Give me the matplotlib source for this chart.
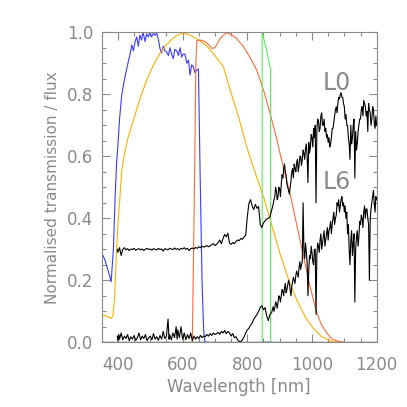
import matplotlib
matplotlib.use("Agg")
import matplotlib.pyplot as plt
from matplotlib.ticker import MultipleLocator

# ---- filter transmission curves ----
blue_wl = [350, 360, 370, 379, 386, 391, 396, 399, 405, 412, 422, 432, 437, 443, 448, 453, 458, 463, 468,
           473, 478, 484, 489, 494, 499, 504, 510, 515, 520, 525, 530, 535, 540, 545, 551, 556, 561, 566,
           571, 576, 582, 587, 592, 597, 602, 607, 613, 618, 623, 628, 633, 638, 644, 649, 654, 660, 665, 669, 680]
blue_tr = [0.289, 0.265, 0.23, 0.195, 0.30, 0.46, 0.58, 0.62, 0.72, 0.80, 0.857, 0.905, 0.927, 0.959, 0.94, 0.97,
           0.985, 0.955, 0.991, 0.975, 1.0, 0.97, 0.995, 0.985, 1.0, 0.985, 0.997, 0.99, 0.998, 0.977, 0.948,
           0.933, 0.955, 0.94, 0.936, 0.925, 0.95, 0.93, 0.915, 0.945, 0.94, 0.925, 0.95, 0.92, 0.93, 0.93,
           0.90, 0.91, 0.862, 0.895, 0.889, 0.87, 0.878, 0.882, 0.55, 0.20, 0.04, 0.0, 0.0]

yel_wl = [350, 365, 378, 385, 390, 395, 400, 405, 412, 420, 430, 448, 468, 489, 510, 530, 550, 575, 597, 620,
          650, 675, 700, 726, 747, 775, 798, 825, 850, 875, 901, 925, 953, 980, 1004, 1030, 1056, 1075, 1090, 1100]
yel_tr = [0.088, 0.085, 0.077, 0.085, 0.15, 0.28, 0.38, 0.45, 0.556, 0.605, 0.655, 0.717, 0.785, 0.846, 0.895,
          0.932, 0.96, 0.985, 0.997, 0.993, 0.975, 0.955, 0.925, 0.889, 0.814, 0.72, 0.631, 0.545, 0.47, 0.38,
          0.287, 0.21, 0.136, 0.08, 0.045, 0.018, 0.005, 0.001, 0.0, 0.0]

red_wl = [630, 636, 641, 644, 654, 669, 680, 690, 700, 708, 716, 726, 736, 752, 767, 778, 788, 808, 829,
          850, 870, 890, 901, 920, 932, 963, 994, 1015, 1030, 1046, 1060, 1076, 1097]
red_tr = [0.0, 0.45, 0.90, 0.973, 0.975, 0.97, 0.96, 0.948, 0.95, 0.965, 0.98, 0.99, 0.999, 0.991, 0.98, 0.966,
          0.954, 0.92, 0.878, 0.814, 0.74, 0.66, 0.61, 0.53, 0.48, 0.33, 0.18, 0.094, 0.055, 0.03, 0.012,
          0.005, 0.0]

grn_wl = [846, 846, 858, 872, 872]
grn_tr = [0.0, 1.0, 0.95, 0.88, 0.0]

base_wl = [350, 1200]
base_tr = [0.0, 0.0]
navy_wl = [846, 872]
navy_tr = [0.0, 0.0]

# ---- L0 spectrum ----
l0_wl = [398, 400, 405, 410, 415, 420, 425, 430, 435, 440, 445, 450, 455, 460, 465, 470, 475, 480, 485, 490,
         495, 500, 505, 510, 515, 520, 525, 530, 535, 540, 545, 550, 555, 560, 565, 570, 575, 580, 585, 590,
         595, 600, 605, 610, 615, 620, 625, 630, 635, 640, 645, 650, 655, 660, 665, 670, 675, 680, 685, 690,
         695, 700, 705, 710, 715, 720, 725, 730, 735, 740, 745, 750, 755, 760, 765, 770, 775, 780, 785, 790,
         795, 800, 805, 810, 815, 820, 825, 830, 835, 840, 845, 850, 855, 860, 865, 870, 875,
         880, 882.5, 885, 887.5, 890, 892.5, 895, 897.5, 900, 902.5, 905, 907.5, 910, 912.5, 915, 917.5,
         920, 922.5, 925, 927.5, 930, 932.5, 935, 937.5, 940, 942.5, 945, 947.5, 950, 952.5, 955, 957.5,
         960, 962.5, 965, 967.5, 970, 972.5, 975, 977.5, 980, 982.5, 985, 987.5, 990, 992.5, 995, 997.5,
         1000, 1002.5, 1005, 1007.5, 1010, 1012.5, 1015, 1017.5, 1020, 1022.5, 1025, 1027.5, 1030, 1032.5,
         1035, 1037.5, 1040, 1042.5, 1045, 1047.5, 1050, 1052.5, 1055, 1057.5, 1060, 1062.5, 1065, 1067.5,
         1070, 1072.5, 1075, 1077.5, 1080, 1082.5, 1085, 1087.5, 1090, 1092.5, 1095, 1097.5, 1100, 1102.5,
         1105, 1107.5, 1110, 1112.5, 1115, 1117.5, 1120, 1122.5, 1125, 1127.5, 1130, 1132.5, 1135, 1137.5,
         1140, 1142.5, 1145, 1147.5, 1150, 1152.5, 1155, 1157.5, 1160, 1162.5, 1165, 1167.5, 1170, 1172.5,
         1175, 1177.5, 1180, 1182.5, 1185, 1187.5, 1190, 1192.5, 1195, 1197.5, 1200]
l0_fx = [0.300, 0.290, 0.305, 0.280, 0.300, 0.305, 0.298, 0.302, 0.296, 0.301, 0.299, 0.303, 0.297, 0.300,
         0.302, 0.298, 0.301, 0.296, 0.300, 0.303, 0.299, 0.301, 0.297, 0.302, 0.300, 0.298, 0.303, 0.299,
         0.301, 0.294, 0.302, 0.300, 0.298, 0.303, 0.301, 0.299, 0.304, 0.300, 0.302, 0.298, 0.303, 0.301,
         0.305, 0.300, 0.303, 0.296, 0.302, 0.304, 0.301, 0.306, 0.303, 0.308, 0.305, 0.310, 0.307, 0.309,
         0.312, 0.308, 0.311, 0.315, 0.318, 0.312, 0.316, 0.322, 0.330, 0.318, 0.335, 0.348, 0.340, 0.352,
         0.320, 0.316, 0.322, 0.318, 0.325, 0.330, 0.328, 0.335, 0.332, 0.340, 0.345, 0.405, 0.448, 0.460,
         0.440, 0.428, 0.445, 0.432, 0.438, 0.380, 0.370, 0.385, 0.392, 0.398, 0.400, 0.405, 0.425,
         0.445, 0.460, 0.470, 0.500, 0.488, 0.460, 0.470, 0.500, 0.495, 0.470, 0.510, 0.540, 0.530, 0.560,
         0.575, 0.550, 0.540, 0.510, 0.500, 0.490, 0.478, 0.500, 0.520, 0.550, 0.560, 0.530, 0.575, 0.560,
         0.550, 0.580, 0.590, 0.550, 0.570, 0.600, 0.600, 0.570, 0.588, 0.620, 0.610, 0.590, 0.625, 0.640,
         0.600, 0.515, 0.645, 0.610, 0.630, 0.670, 0.660, 0.630, 0.690, 0.660, 0.700, 0.450, 0.680, 0.720,
         0.715, 0.680, 0.690, 0.730, 0.740, 0.700, 0.700, 0.720, 0.680, 0.690, 0.660, 0.670, 0.645, 0.660,
         0.630, 0.640, 0.660, 0.690, 0.690, 0.710, 0.730, 0.750, 0.760, 0.740, 0.770, 0.790, 0.785, 0.800,
         0.805, 0.790, 0.790, 0.770, 0.760, 0.720, 0.735, 0.700, 0.700, 0.660, 0.640, 0.590, 0.700, 0.640,
         0.660, 0.700, 0.720, 0.530, 0.680, 0.620, 0.640, 0.680, 0.700, 0.720, 0.720, 0.750, 0.760, 0.730,
         0.780, 0.770, 0.760, 0.730, 0.745, 0.680, 0.770, 0.750, 0.740, 0.700, 0.720, 0.760, 0.750, 0.710,
         0.690, 0.730, 0.700]

# ---- L6 spectrum ----
l6_wl = [398, 400, 403, 405, 410, 415, 420, 425, 430, 435, 440, 445, 450, 455, 460, 465, 470, 475, 480, 485,
         490, 495, 500, 505, 510, 515, 520, 525, 530, 535, 540, 545, 550, 555, 558, 560, 565, 570, 575, 580,
         583, 585, 590, 595, 600, 605, 610, 615, 620, 625, 630, 635, 640, 645, 650, 655, 660, 665, 670, 675,
         680, 685, 690, 695, 700, 705, 710, 715, 720, 725, 730, 735, 740, 745, 750, 755, 760, 765, 770, 775,
         780, 785, 790, 795, 800, 805, 810, 815, 820, 825, 830, 835, 840, 845, 850, 855, 860, 865, 870, 875,
         880, 882.5, 885, 887.5, 890, 892.5, 895, 897.5, 900, 902.5, 905, 907.5, 910, 912.5, 915, 917.5,
         920, 922.5, 925, 927.5, 930, 932.5, 935, 937.5, 940, 942.5, 945, 947.5, 950, 952.5, 955, 957.5,
         960, 962.5, 965, 967.5, 970, 972.5, 975, 977.5, 980, 982.5, 985, 987.5, 990, 992.5, 995, 997.5,
         1000, 1002.5, 1005, 1007.5, 1010, 1012.5, 1015, 1017.5, 1020, 1022.5, 1025, 1027.5, 1030, 1032.5,
         1035, 1037.5, 1040, 1042.5, 1045, 1047.5, 1050, 1052.5, 1055, 1057.5, 1060, 1062.5, 1065, 1067.5,
         1070, 1072.5, 1075, 1077.5, 1080, 1082.5, 1085, 1087.5, 1090, 1092.5, 1095, 1097.5, 1100, 1102.5,
         1105, 1107.5, 1110, 1112.5, 1115, 1117.5, 1120, 1122.5, 1125, 1127.5, 1130, 1132.5, 1135, 1137.5,
         1140, 1142.5, 1145, 1147.5, 1150, 1152.5, 1155, 1157.5, 1160, 1162.5, 1165, 1167.5, 1170, 1172.5,
         1175, 1177.5, 1180, 1182.5, 1185, 1187.5, 1190, 1192.5, 1195, 1197.5, 1200]
l6_fx = [0.020, 0.005, 0.025, 0.010, 0.030, 0.008, 0.020, 0.012, 0.025, 0.005, 0.018, 0.010, 0.022, 0.006,
         0.015, 0.030, 0.008, 0.020, 0.012, 0.025, 0.005, 0.015, 0.020, 0.008, 0.028, 0.010, 0.018, 0.006,
         0.022, 0.010, 0.035, 0.012, 0.020, 0.075, 0.010, 0.025, 0.008, 0.030, 0.015, 0.050, 0.010, 0.040,
         0.015, 0.050, 0.010, 0.030, 0.008, 0.025, 0.012, 0.030, 0.005, 0.020, 0.010, 0.018, 0.012, 0.022,
         0.015, 0.020, 0.018, 0.025, 0.020, 0.028, 0.022, 0.030, 0.025, 0.028, 0.032, 0.026, 0.035, 0.030,
         0.038, 0.028, 0.035, 0.030, 0.020, 0.028, 0.015, 0.018, 0.008, 0.003, 0.002, 0.008, 0.018, 0.030,
         0.040, 0.045, 0.055, 0.062, 0.075, 0.082, 0.090, 0.100, 0.112, 0.118, 0.105, 0.112, 0.085, 0.070,
         0.090, 0.095,
         0.115, 0.100, 0.110, 0.130, 0.125, 0.110, 0.130, 0.150, 0.145, 0.130, 0.150, 0.170, 0.165, 0.150,
         0.175, 0.190, 0.160, 0.170, 0.185, 0.200, 0.190, 0.170, 0.150, 0.180, 0.195, 0.210, 0.200, 0.190,
         0.215, 0.230, 0.220, 0.210, 0.240, 0.260, 0.235, 0.250, 0.260, 0.450, 0.300, 0.270, 0.320, 0.290,
         0.260, 0.150, 0.230, 0.280, 0.270, 0.310, 0.290, 0.260, 0.250, 0.300, 0.300, 0.090, 0.280, 0.320,
         0.310, 0.290, 0.330, 0.350, 0.300, 0.320, 0.340, 0.360, 0.310, 0.330, 0.350, 0.370, 0.330, 0.360,
         0.370, 0.390, 0.350, 0.380, 0.400, 0.420, 0.380, 0.400, 0.410, 0.450, 0.440, 0.460, 0.420, 0.440,
         0.460, 0.470, 0.440, 0.450, 0.420, 0.440, 0.400, 0.420, 0.350, 0.380, 0.300, 0.250, 0.330, 0.360,
         0.280, 0.320, 0.350, 0.130, 0.300, 0.340, 0.360, 0.310, 0.340, 0.390, 0.380, 0.410, 0.400, 0.370,
         0.420, 0.440, 0.400, 0.430, 0.430, 0.400, 0.380, 0.200, 0.400, 0.430, 0.450, 0.470, 0.490, 0.450,
         0.420, 0.470, 0.460]

labels = ["L0", "L6"]
label_wl = [1077, 1077]
label_y = [0.836, 0.518]

xticks = [400, 600, 800, 1000, 1200]
yticks = [0.0, 0.2, 0.4, 0.6, 0.8, 1.0]

GRAY = "#8a8a8a"
plt.rcParams['font.family'] = ['DejaVu Sans']

fig = plt.figure(figsize=(4.07, 4.07), dpi=100)
ax = fig.add_axes([0.25, 0.159, 0.6755, 0.7617])

lw = 0.8
ax.plot(base_wl, base_tr, color="#006400", lw=1.0, zorder=2)
ax.plot(navy_wl, navy_tr, color="#000080", lw=1.0, zorder=2)
ax.plot(blue_wl, blue_tr, color="#3a3aff", lw=lw)
ax.plot(yel_wl, yel_tr, color="#ffb000", lw=lw)
ax.plot(red_wl, red_tr, color="#ff6a3d", lw=lw)
ax.plot(grn_wl, grn_tr, color="#55ee55", lw=lw)
ax.plot(l0_wl, l0_fx, color="black", lw=lw)
ax.plot(l6_wl, l6_fx, color="black", lw=lw)

for t, xw, yv in zip(labels, label_wl, label_y):
    ax.text(xw, yv, t, color=GRAY, fontsize=17, ha="center", va="center")

ax.set_xlim(350, 1200)
ax.set_ylim(0, 1.0)
ax.set_xticks(xticks)
ax.set_yticks(yticks)
ax.set_xticklabels([str(v) for v in xticks])
ax.set_yticklabels([f"{v:.1f}" for v in yticks])
ax.xaxis.set_minor_locator(MultipleLocator(50))
ax.yaxis.set_minor_locator(MultipleLocator(0.05))
ax.tick_params(which="both", direction="in", top=True, right=True, color=GRAY, labelcolor=GRAY,
               labelsize=12, width=0.8)
ax.tick_params(which="major", length=6)
ax.tick_params(which="minor", length=3)
ax.tick_params(axis="x", pad=10)
ax.tick_params(axis="y", pad=6)
for s in ax.spines.values():
    s.set_color(GRAY)
    s.set_linewidth(0.8)
ax.set_xlabel("Wavelength [nm]", color=GRAY, fontsize=12, labelpad=3)
ax.set_ylabel("Normalised transmission / flux", color=GRAY, fontsize=11, labelpad=5)

fig.savefig("out.png", dpi=100)
